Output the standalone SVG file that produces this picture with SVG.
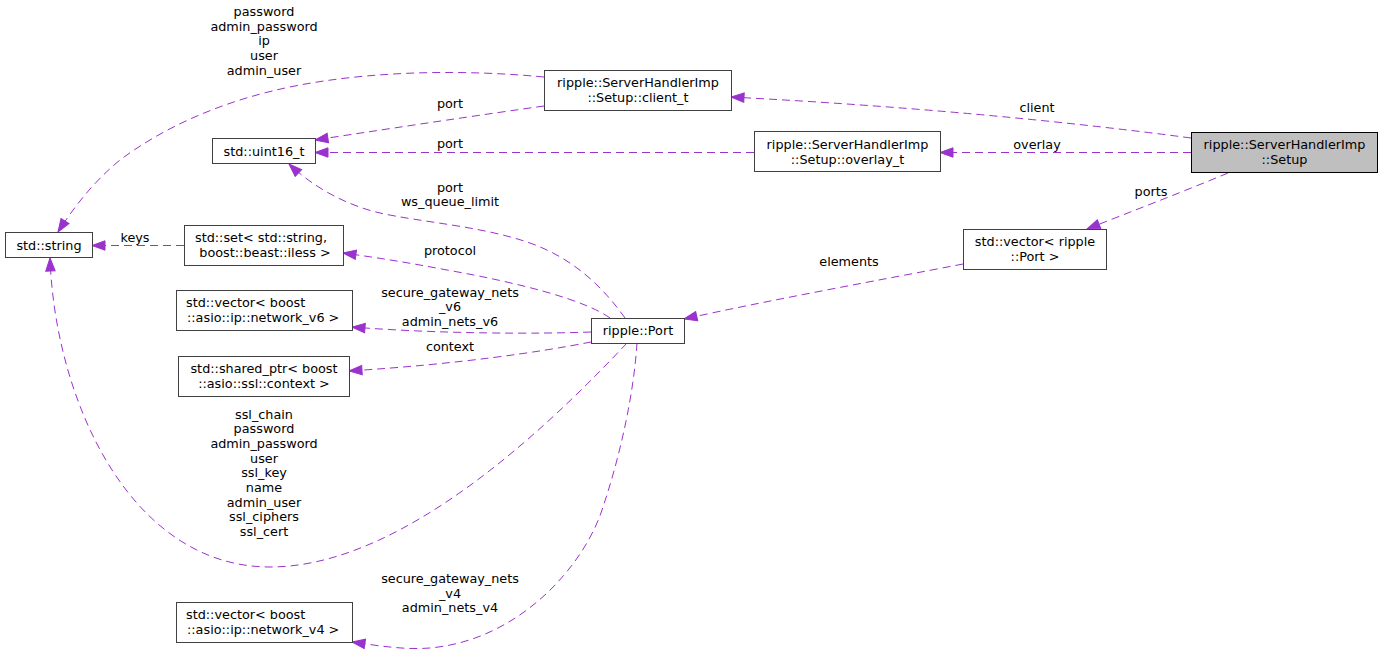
<svg xmlns="http://www.w3.org/2000/svg" width="1383" height="652" viewBox="0 0 1383 652">
<style>
text{font-family:"DejaVu Sans","Liberation Sans",sans-serif;font-size:12.8px;fill:#000}
.m{text-anchor:middle}
.l{text-anchor:start}
.box{fill:#fff;stroke:#404040;stroke-width:1}
.root{fill:#bfbfbf;stroke:#000;stroke-width:1}
.e{fill:none;stroke:#9a32cd;stroke-width:1;stroke-dasharray:8,5;marker-end:url(#ah)}
</style>
<defs>
<marker id="ah" markerUnits="userSpaceOnUse" markerWidth="15" markerHeight="12" refX="13" refY="5" orient="auto" overflow="visible">
<path d="M0,0.3 L13,5 L0,9.7 z" fill="#9a32cd" stroke="#9a32cd" stroke-width="1"/>
</marker>
</defs>
<rect width="1383" height="652" fill="#fff"/>

<g id="connectors">
<path class="e" d="M1191,138 Q980,110 731,97"/>
<path class="e" d="M1191,152.5 L940,152.5"/>
<path class="e" d="M1228,173 C1180,193 1130,212 1087,229"/>
<path class="e" d="M963,264 C880,280 770,300 684,319"/>
<path class="e" d="M544,77 C470,70 380,70 300,85 C220,100 160,130 120,160 C92,183 72,210 58,232"/>
<path class="e" d="M544,106 C480,115 400,127 315,140"/>
<path class="e" d="M754,152.5 L315,152.5"/>
<path class="e" d="M625,318 C605,290 575,258 527,242 C480,226 420,222 380,213 C345,205 312,186 289,164"/>
<path class="e" d="M610,318 C585,300 520,283 447,270 C410,263 380,258 343,253"/>
<path class="e" d="M591,332 C540,334 440,334 352,327"/>
<path class="e" d="M591,342 C540,352 460,364 349,371"/>
<path class="e" d="M627,343 C507,471 380,567 270,567 C130,567 55,400 50,258"/>
<path class="e" d="M637,343 C634,390 622,450 603,507 C585,565 520,640 430,648 C405,650 380,646 352,642"/>
<path class="e" d="M184,245.5 L92,245.5"/>
<g id="edge-labels">
<text class="m" x="1037" y="111.5">client</text>
<text class="m" x="1037" y="148.5">overlay</text>
<text class="m" x="1151" y="195.5">ports</text>
<text class="m" x="849" y="265.5">elements</text>
<text class="m" x="264" y="16">password</text>
<text class="m" x="264" y="30.7">admin_password</text>
<text class="m" x="264" y="45.4">ip</text>
<text class="m" x="264" y="60.1">user</text>
<text class="m" x="264" y="74.8">admin_user</text>
<text class="m" x="450" y="107.5">port</text>
<text class="m" x="450" y="148">port</text>
<text class="m" x="450" y="191.5">port</text>
<text class="m" x="450" y="205.5">ws_queue_limit</text>
<text class="m" x="450" y="254.5">protocol</text>
<text class="m" x="450" y="296.5">secure_gateway_nets</text>
<text class="m" x="450" y="311">_v6</text>
<text class="m" x="450" y="325.5">admin_nets_v6</text>
<text class="m" x="450" y="350.5">context</text>
<text class="m" x="135" y="241.5">keys</text>
<text class="m" x="264" y="418.5">ssl_chain</text>
<text class="m" x="264" y="433.2">password</text>
<text class="m" x="264" y="447.9">admin_password</text>
<text class="m" x="264" y="462.6">user</text>
<text class="m" x="264" y="477.3">ssl_key</text>
<text class="m" x="264" y="492">name</text>
<text class="m" x="264" y="506.7">admin_user</text>
<text class="m" x="264" y="521.4">ssl_ciphers</text>
<text class="m" x="264" y="536.1">ssl_cert</text>
<text class="m" x="450" y="583">secure_gateway_nets</text>
<text class="m" x="450" y="597.5">_v4</text>
<text class="m" x="450" y="612">admin_nets_v4</text>
</g>
</g>

<g id="node-setup">
<rect class="root" x="1191.5" y="132.5" width="186" height="40"/>
<text class="m" x="1284.5" y="149">ripple::ServerHandlerImp</text>
<text class="m" x="1284.5" y="164">::Setup</text>
</g>
<g id="node-client_t">
<rect class="box" x="544.5" y="70.5" width="187" height="40"/>
<text class="m" x="638" y="87">ripple::ServerHandlerImp</text>
<text class="m" x="638" y="102">::Setup::client_t</text>
</g>
<g id="node-overlay_t">
<rect class="box" x="754.5" y="131.5" width="186" height="40"/>
<text class="m" x="847.5" y="148.5">ripple::ServerHandlerImp</text>
<text class="m" x="847.5" y="163.5">::Setup::overlay_t</text>
</g>
<g id="node-vector-port">
<rect class="box" x="963.5" y="229.5" width="143" height="40"/>
<text class="m" x="1035" y="246">std::vector&lt; ripple</text>
<text class="m" x="1035" y="261">::Port &gt;</text>
</g>
<g id="node-uint16">
<rect class="box" x="212.5" y="138.5" width="103" height="25"/>
<text class="m" x="264" y="155.5">std::uint16_t</text>
</g>
<g id="node-string">
<rect class="box" x="5.5" y="232.5" width="87" height="25"/>
<text class="m" x="49" y="249.5">std::string</text>
</g>
<g id="node-set">
<rect class="box" x="184.5" y="225.5" width="159" height="40"/>
<text class="m" x="261" y="241.5">std::set&lt; std::string,</text>
<text class="m" x="265" y="256.5">boost::beast::iless &gt;</text>
</g>
<g id="node-port">
<rect class="box" x="591.5" y="318.5" width="93" height="25"/>
<text class="m" x="638" y="335">ripple::Port</text>
</g>
<g id="node-network-v6">
<rect class="box" x="176.5" y="290.5" width="176" height="40"/>
<text class="l" x="186" y="306.5">std::vector&lt; boost</text>
<text class="l" x="187" y="321.5">::asio::ip::network_v6 &gt;</text>
</g>
<g id="node-shared-ptr">
<rect class="box" x="178.5" y="356.5" width="171" height="40"/>
<text class="m" x="264" y="372.5">std::shared_ptr&lt; boost</text>
<text class="m" x="264" y="387.5">::asio::ssl::context &gt;</text>
</g>
<g id="node-network-v4">
<rect class="box" x="176.5" y="602.5" width="176" height="40"/>
<text class="l" x="186" y="618.5">std::vector&lt; boost</text>
<text class="l" x="187" y="633.5">::asio::ip::network_v4 &gt;</text>
</g>
</svg>
